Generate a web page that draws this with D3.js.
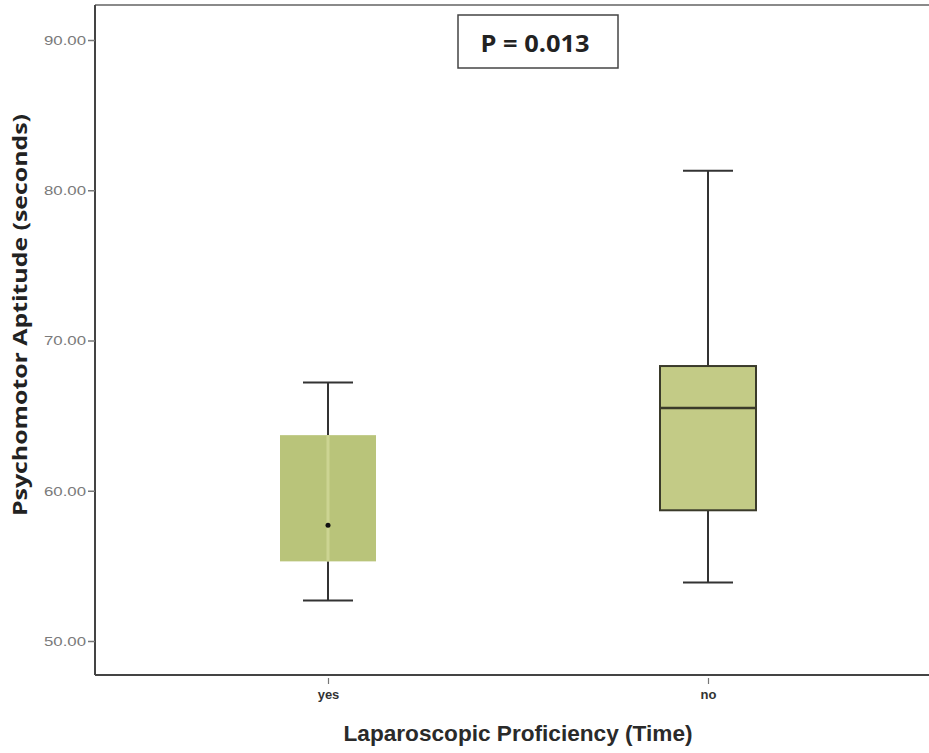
<!DOCTYPE html>
<html>
<head>
<meta charset="utf-8">
<script src="https://cdn.jsdelivr.net/npm/d3@7/dist/d3.min.js"></script>
<style>
  html, body { margin: 0; padding: 0; background: #fff; }
  svg { display: block; }
</style>
</head>
<body>
<script>
// Box plot summaries per proficiency group
const categories = ["yes", "no"];
const whiskerLow  = [52.7, 53.9];
const q1          = [55.3, 58.7];
const median      = [57.7, 65.5];
const q3          = [63.7, 68.3];
const whiskerHigh = [67.2, 81.3];
const yTicks = [50, 60, 70, 80, 90];
const pLabel = "P = 0.013";

const W = 929, H = 753;
const plotLeft = 95, plotTop = 5, plotBottom = 675, plotRight = 929;

const svg = d3.select("body").append("svg").attr("width", W).attr("height", H);

const y = d3.scaleLinear().domain([50, 90]).range([641, 40]);
const x = d3.scalePoint().domain(categories).range([138, 898]).padding(0.5);

const boxW = 96, capW = 50;
const fills = ["#b9c47a", "#c3cb86"];

// top frame line
svg.append("line").attr("x1", plotLeft).attr("x2", plotRight).attr("y1", plotTop).attr("y2", plotTop)
  .attr("stroke", "#8a8a8a").attr("stroke-width", 2);

// y axis
const yAxis = d3.axisLeft(y).tickValues(yTicks).tickFormat(d3.format(".2f")).tickSize(7).tickPadding(2);
const gy = svg.append("g").attr("transform", `translate(${plotLeft},0)`).call(yAxis);
gy.select(".domain").attr("d", `M0,${plotTop}V${plotBottom}`).attr("stroke", "#444").attr("stroke-width", 2);
gy.selectAll(".tick line").attr("stroke", "#777").attr("stroke-width", 1.5);
gy.selectAll(".tick text").attr("fill", "#7a7a7a").attr("font-family", "Liberation Sans, Arial, sans-serif")
  .attr("font-size", 13.5).attr("textLength", 42).attr("lengthAdjust", "spacingAndGlyphs");

// x axis
const xAxis = d3.axisBottom(x).tickSize(6).tickPadding(9);
const gx = svg.append("g").attr("transform", `translate(0,${plotBottom})`).call(xAxis);
gx.select(".domain").attr("d", `M${plotLeft},0H${plotRight}`).attr("stroke", "#444").attr("stroke-width", 2);
gx.selectAll(".tick line").attr("stroke", "#777").attr("stroke-width", 1.2).attr("y1", 3).attr("y2", 9);
gx.selectAll(".tick text").attr("fill", "#333").attr("font-family", "Liberation Sans, Arial, sans-serif")
  .attr("font-size", 13).attr("font-weight", "bold");

// boxes
const data = categories.map((c, i) => ({
  c, lo: whiskerLow[i], q1: q1[i], med: median[i], q3: q3[i], hi: whiskerHigh[i], fill: fills[i], i
}));

const g = svg.append("g");
data.forEach(d => {
  const cx = x(d.c);
  const stroke = "#333";
  // whiskers
  g.append("line").attr("x1", cx).attr("x2", cx).attr("y1", y(d.hi)).attr("y2", y(d.q3))
    .attr("stroke", stroke).attr("stroke-width", 2);
  g.append("line").attr("x1", cx).attr("x2", cx).attr("y1", y(d.q1)).attr("y2", y(d.lo))
    .attr("stroke", stroke).attr("stroke-width", 2);
  g.append("line").attr("x1", cx - capW / 2).attr("x2", cx + capW / 2).attr("y1", y(d.hi)).attr("y2", y(d.hi))
    .attr("stroke", stroke).attr("stroke-width", 2);
  g.append("line").attr("x1", cx - capW / 2).attr("x2", cx + capW / 2).attr("y1", y(d.lo)).attr("y2", y(d.lo))
    .attr("stroke", stroke).attr("stroke-width", 2);
  if (d.i === 0) {
    // first group: filled box without outline, with a lighter centre strip and a median dot
    g.append("rect").attr("x", cx - boxW / 2).attr("width", boxW)
      .attr("y", y(d.q3)).attr("height", y(d.q1) - y(d.q3)).attr("fill", d.fill);
    g.append("line").attr("x1", cx).attr("x2", cx).attr("y1", y(d.q3)).attr("y2", y(d.q1))
      .attr("stroke", "#ccd492").attr("stroke-width", 3);
    g.append("circle").attr("cx", cx).attr("cy", y(d.med)).attr("r", 2.5).attr("fill", "#111");
  } else {
    g.append("rect").attr("x", cx - boxW / 2).attr("width", boxW)
      .attr("y", y(d.q3)).attr("height", y(d.q1) - y(d.q3)).attr("fill", d.fill)
      .attr("stroke", "#3a3a2a").attr("stroke-width", 2);
    g.append("line").attr("x1", cx - boxW / 2).attr("x2", cx + boxW / 2).attr("y1", y(d.med)).attr("y2", y(d.med))
      .attr("stroke", "#3a3a2a").attr("stroke-width", 2.5);
  }
});

// p-value box
const pg = svg.append("g");
pg.append("rect").attr("x", 458).attr("y", 15).attr("width", 160).attr("height", 53)
  .attr("fill", "#fff").attr("stroke", "#444").attr("stroke-width", 1.5);
pg.append("text").attr("x", 535).attr("y", 52).attr("text-anchor", "middle")
  .attr("font-family", "Open Sans, Liberation Sans, sans-serif").attr("font-weight", "bold")
  .attr("font-size", 24).attr("textLength", 109).attr("lengthAdjust", "spacingAndGlyphs")
  .attr("fill", "#222").text(pLabel);

// axis titles
svg.append("text").attr("x", 518).attr("y", 741).attr("text-anchor", "middle")
  .attr("font-family", "Liberation Sans, Arial, sans-serif").attr("font-weight", "bold")
  .attr("font-size", 22).attr("textLength", 349).attr("lengthAdjust", "spacingAndGlyphs")
  .attr("fill", "#2a2a2a").text("Laparoscopic Proficiency (Time)");
svg.append("text").attr("transform", "translate(27,315) rotate(-90)").attr("text-anchor", "middle")
  .attr("font-family", "Open Sans, Liberation Sans, sans-serif").attr("font-weight", "bold")
  .attr("font-size", 19).attr("textLength", 402).attr("lengthAdjust", "spacingAndGlyphs")
  .attr("fill", "#222").text("Psychomotor Aptitude (seconds)");
</script>
</body>
</html>
